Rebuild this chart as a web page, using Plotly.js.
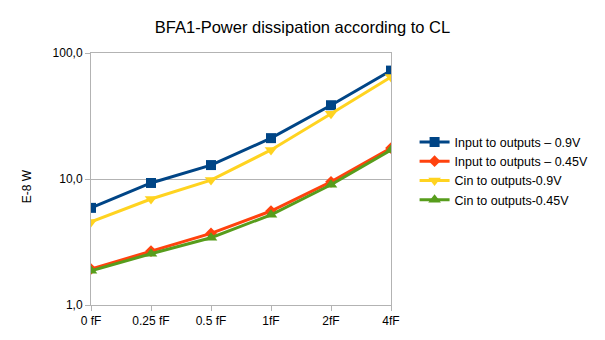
<!DOCTYPE html>
<html>
<head>
<meta charset="utf-8">
<script src="https://cdn.plot.ly/plotly-3.0.1.min.js"></script>
<style>
html, body { margin: 0; padding: 0; background: #fff; }
#chart { width: 605px; height: 340px; }
</style>
</head>
<body>
<div id="chart"></div>
<script>
// load capacitance categories
let loads = ["0 fF", "0.25 fF", "0.5 fF", "1fF", "2fF", "4fF"];

// power dissipation, E-8 W
let inputHigh = [5.9, 9.3, 12.9, 21.1, 38.5, 72.5];
let inputLow = [1.93, 2.68, 3.7, 5.57, 9.5, 17.6];
let cinHigh = [4.56, 6.94, 9.8, 17.0, 33.0, 64.5];
let cinLow = [1.87, 2.55, 3.42, 5.2, 9.0, 17.0];

let yTicks = [1, 10, 100];
let yTickText = ["1,0", "10,0", "100,0"];

function series(name, values, color, symbol, size){
return {
x: loads,
y: values,
name: name,
type: "scatter",
mode: "lines+markers",
line: {color: color, width: 3},
marker: {color: color, symbol: symbol, size: size}
};
}

let traces = [
series("Input to outputs – 0.9V", inputHigh, "#004586", "square", 10),
series("Input to outputs – 0.45V", inputLow, "#ff420e", "diamond", 9),
series("Cin to outputs-0.9V", cinHigh, "#ffd320", "triangle-down", 11),
series("Cin to outputs-0.45V", cinLow, "#579d1c", "triangle-up", 11)
];

let layout = {
width: 605,
height: 340,
margin: {l: 91, r: 213, t: 53, b: 35},
paper_bgcolor: "#fff",
plot_bgcolor: "#fff",
font: {family: "Liberation Sans, Arial, sans-serif", size: 12, color: "#000"},
title: {
text: "BFA1-Power dissipation according to CL",
font: {size: 16.5, color: "#000"},
x: 0.5,
xanchor: "center",
y: 0.92,
yanchor: "middle"
},
xaxis: {
type: "category",
range: [0, 5],
showgrid: false,
showline: true,
linecolor: "#b3b3b3",
mirror: true,
ticks: "outside",
ticklen: 5,
tickcolor: "#b3b3b3",
tickfont: {size: 12},
zeroline: false
},
yaxis: {
type: "log",
range: [0, 2],
tickvals: yTicks,
ticktext: yTickText,
showgrid: true,
gridcolor: "#b3b3b3",
showline: true,
linecolor: "#b3b3b3",
mirror: true,
ticks: "outside",
ticklen: 5,
tickcolor: "#b3b3b3",
tickfont: {size: 12},
zeroline: false
},
annotations: [{
text: "E-8 W",
xref: "paper",
yref: "paper",
x: -0.213,
y: 0.472,
xanchor: "center",
yanchor: "middle",
textangle: -90,
showarrow: false,
font: {size: 12}
}],
legend: {
x: 1.075,
y: 0.705,
xanchor: "left",
yanchor: "top",
font: {size: 12.5},
tracegroupgap: 0,
itemwidth: 30,
bgcolor: "rgba(0,0,0,0)"
},
showlegend: true
};

Plotly.newPlot("chart", traces, layout, {displayModeBar: false, staticPlot: true});
</script>
</body>
</html>
